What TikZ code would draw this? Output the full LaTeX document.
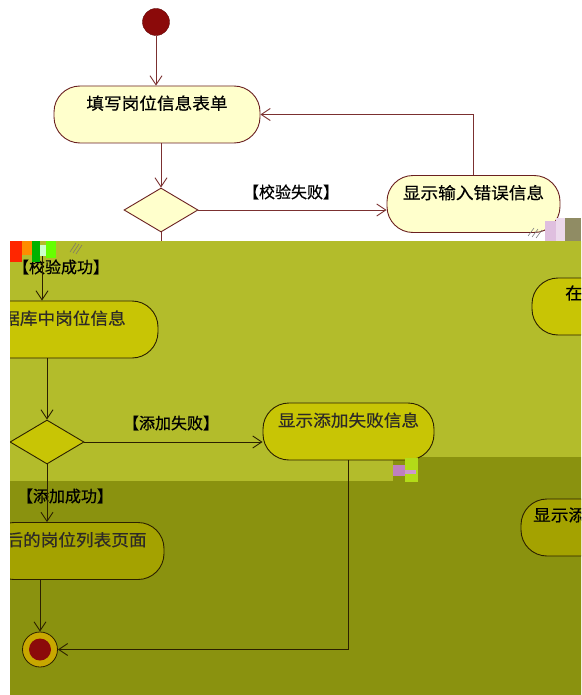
\documentclass[tikz,border=0pt]{standalone}
\usepackage{fontspec}
\usepackage{xcolor}
\usepackage{tikz}
\usetikzlibrary{shapes.geometric,arrows.meta}
\newfontfamily\cjk[FakeStretch=1.07,FakeBold=0.6]{Noto Sans CJK SC}
\newfontfamily\cjklab[FakeBold=0.6]{Noto Sans CJK SC}
\definecolor{LineRed}{HTML}{7B3030}
\definecolor{BoxRed}{HTML}{6A2020}
\definecolor{PaleYellow}{HTML}{FFFFCC}
\definecolor{DotRed}{HTML}{8B0A0A}
\definecolor{OliveLight}{HTML}{B3BC2B}
\definecolor{OliveDark}{HTML}{8A920F}
\definecolor{BoxOlive}{HTML}{C8C505}
\definecolor{BoxDark}{HTML}{A4A200}
\definecolor{OliveLine}{HTML}{2B2000}
\definecolor{RingGold}{HTML}{C8A800}

\begin{document}
\begin{tikzpicture}[x=1pt,y=-1pt,
    act/.style={draw=BoxRed, fill=PaleYellow, line width=0.9pt, rounded corners=26pt,
      minimum height=57pt, inner sep=0pt, text height=12pt, text depth=22pt,
      font=\cjk\fontsize{16.5}{18}\selectfont},
    olivebox/.style={draw=OliveLine, fill=BoxOlive, text=black!90!olive},
    darkbox/.style={draw=OliveLine, fill=BoxDark, text=black!90!olive},
    dec/.style={diamond, draw=BoxRed, fill=PaleYellow, line width=0.9pt, inner sep=0pt,
      minimum width=74pt, minimum height=44pt},
    lab/.style={inner sep=0pt, font=\cjklab\fontsize{16}{18}\selectfont},
    flow/.style={draw=LineRed, line width=0.9pt, -{Straight Barb[length=9pt,width=12pt]}},
    oliveflow/.style={flow, draw=OliveLine}]

    % Drawing the white paper
    \fill[white] (0,0) rectangle (581,695);
    \useasboundingbox (0,0) rectangle (581,695);

    % Upper part of the activity diagram
    \node[circle, fill=DotRed, draw=DotRed!70!black, minimum size=27pt, inner sep=0pt] (start) at (156,22) {};
    \node[act, minimum width=206pt] (fillform) at (157,114.5) {填写岗位信息表单};
    \node[dec] (check) at (161,210) {};
    \node[act, minimum width=173pt] (inerr) at (473.5,204) {显示输入错误信息};
    \node[lab] (checkfail) at (291,192) {【校验失败】};
    \coordinate (cut) at (161,241);

    \draw[flow] (start) -- (start |- fillform.north);
    \draw[flow] (check.north |- fillform.south) -- (check.north);
    \draw[flow] (check.east) -- (check.east -| inerr.west);
    \draw[flow] (inerr.north) |- (fillform.east);
    \draw[LineRed, line width=0.9pt] (check.south) -- (cut);

    % The shifted olive copy
    \fill[OliveLight] (10,241) -- (581,241) -- (581,457) -- (393,457) -- (393,481) -- (10,481) -- cycle;
    \fill[OliveDark] (10,481) -- (393,481) -- (393,457) -- (581,457) -- (581,695) -- (10,695) -- cycle;

    \begin{scope}
    \clip (10,241) rectangle (581,695);
    \node[act, olivebox, minimum width=188pt] (saveinfo) at (64,329.5) {据库中岗位信息};
    \node[dec, draw=OliveLine, fill=BoxOlive] (addcheck) at (47,442) {};
    \node[act, olivebox, minimum width=171pt] (addfail) at (348.5,431.5) {显示添加失败信息};
    \node[act, darkbox, minimum width=176pt] (listpage) at (76,551) {后的岗位列表页面};
    \node[act, olivebox, minimum width=175pt] (zaibox) at (619.5,306.5) {};
    \node[act, darkbox, minimum width=175pt] (showbox) at (608.5,527.5) {};
    \node[anchor=west, inner sep=0pt, font=\cjk\fontsize{16.5}{18}\selectfont] (zaitext) at (565,293) {在};
    \node[anchor=west, inner sep=0pt, font=\cjk\fontsize{16.5}{18}\selectfont] (showtext) at (533,515) {显示添};
    \node[circle, draw=OliveLine, fill=RingGold, line width=0.8pt, minimum size=35pt, inner sep=0pt] (final) at (40,649.5) {};
    \node[circle, fill=DotRed, minimum size=22pt, inner sep=0pt] (finalin) at (final) {};
    \coordinate (okin) at (42,256);

    \node[lab] (checkok) at (61,267) {【校验成功】};
    \node[lab] (addfaillab) at (171,423) {【添加失败】};
    \node[lab] (addok) at (65,496) {【添加成功】};

    \draw[oliveflow] (okin) -- (okin |- saveinfo.north);
    \draw[oliveflow] (addcheck.north |- saveinfo.south) -- (addcheck.north);
    \draw[oliveflow] (addcheck.east) -- (addcheck.east -| addfail.west);
    \draw[oliveflow] (addcheck.south) -- (addcheck.south |- listpage.north);
    \draw[oliveflow] (final.north |- listpage.south) -- (final.north);
    \draw[oliveflow] (addfail.south) |- (final.east);
    \end{scope}

    % Broken pixels
    \fill[red!70!orange] (10,241) rectangle (22,262);
    \fill[orange!90!yellow] (22,241) rectangle (32,255);
    \fill[green!70!black] (32,241) rectangle (40,262);
    \fill[white!80!green] (40,245) rectangle (46,256);
    \fill[green!60!yellow] (46,241) rectangle (56,258);
    \draw[OliveLine!60, line width=0.6pt] (70,252) -- (76,243) (73,253) -- (79,244) (76,254) -- (82,245);
    \fill[gray!70!olive] (565,218) rectangle (581,241);
    \fill[violet!25] (545,221) rectangle (556,241);
    \fill[white!85!violet] (556,218) rectangle (565,241);
    \draw[gray, line width=0.6pt] (528,236) -- (534,228) (532,237) -- (538,229) (536,238) -- (542,230);
    \fill[violet!50] (393,465) rectangle (405,476);
    \fill[yellow!70!green] (405,458) rectangle (418,482);
    \fill[violet!40] (405,470) rectangle (416,474);
\end{tikzpicture}
\end{document}
